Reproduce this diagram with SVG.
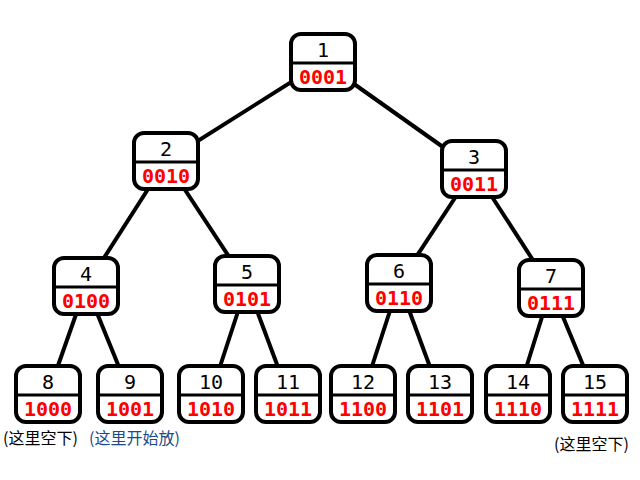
<svg xmlns="http://www.w3.org/2000/svg" width="640" height="480" viewBox="0 0 640 480">
<style>
.b{fill:#fff;stroke:#000;stroke-width:4}
.d{stroke:#000;stroke-width:3}
.n{font-family:"DejaVu Sans Mono",monospace;font-size:20px;text-anchor:middle;fill:#000}
.c{font-family:"DejaVu Sans Mono",monospace;font-size:20px;font-weight:bold;text-anchor:middle;fill:#f00}
.e{stroke:#000;stroke-width:4}
.t{font-family:"Noto Sans CJK SC",sans-serif;font-size:16px}
</style>
<defs>
<g id="box"><rect class="b" x="-32" y="0" width="64" height="56" rx="10"/><line class="d" x1="-32" y1="29" x2="32" y2="29"/></g>
</defs>
<g id="edges">
<line class="e" x1="323" y1="62" x2="166" y2="161"/>
<line class="e" x1="323" y1="62" x2="474" y2="169"/>
<line class="e" x1="166" y1="161" x2="86" y2="286"/>
<line class="e" x1="166" y1="161" x2="247" y2="284"/>
<line class="e" x1="474" y1="169" x2="399" y2="283"/>
<line class="e" x1="474" y1="169" x2="551" y2="288"/>
<line class="e" x1="86" y1="286" x2="48" y2="394"/>
<line class="e" x1="86" y1="286" x2="130" y2="394"/>
<line class="e" x1="247" y1="284" x2="211" y2="394"/>
<line class="e" x1="247" y1="284" x2="288" y2="394"/>
<line class="e" x1="399" y1="283" x2="363" y2="394"/>
<line class="e" x1="399" y1="283" x2="440" y2="394"/>
<line class="e" x1="551" y1="288" x2="518" y2="394"/>
<line class="e" x1="551" y1="288" x2="595" y2="394"/>
</g>
<g id="n1" transform="translate(323,34)"><use href="#box"/><text class="n" y="23">1</text><text class="c" y="50">0001</text></g>
<g id="n2" transform="translate(166,133)"><use href="#box"/><text class="n" y="23">2</text><text class="c" y="50">0010</text></g>
<g id="n3" transform="translate(474,141)"><use href="#box"/><text class="n" y="23">3</text><text class="c" y="50">0011</text></g>
<g id="n4" transform="translate(86,258)"><use href="#box"/><text class="n" y="23">4</text><text class="c" y="50">0100</text></g>
<g id="n5" transform="translate(247,256)"><use href="#box"/><text class="n" y="23">5</text><text class="c" y="50">0101</text></g>
<g id="n6" transform="translate(399,255)"><use href="#box"/><text class="n" y="23">6</text><text class="c" y="50">0110</text></g>
<g id="n7" transform="translate(551,260)"><use href="#box"/><text class="n" y="23">7</text><text class="c" y="50">0111</text></g>
<g id="n8" transform="translate(48,366)"><use href="#box"/><text class="n" y="23">8</text><text class="c" y="50">1000</text></g>
<g id="n9" transform="translate(130,366)"><use href="#box"/><text class="n" y="23">9</text><text class="c" y="50">1001</text></g>
<g id="n10" transform="translate(211,366)"><use href="#box"/><text class="n" y="23">10</text><text class="c" y="50">1010</text></g>
<g id="n11" transform="translate(288,366)"><use href="#box"/><text class="n" y="23">11</text><text class="c" y="50">1011</text></g>
<g id="n12" transform="translate(363,366)"><use href="#box"/><text class="n" y="23">12</text><text class="c" y="50">1100</text></g>
<g id="n13" transform="translate(440,366)"><use href="#box"/><text class="n" y="23">13</text><text class="c" y="50">1101</text></g>
<g id="n14" transform="translate(518,366)"><use href="#box"/><text class="n" y="23">14</text><text class="c" y="50">1110</text></g>
<g id="n15" transform="translate(595,366)"><use href="#box"/><text class="n" y="23">15</text><text class="c" y="50">1111</text></g>
<text class="t" x="3" y="444" fill="#000">(这里空下)</text>
<text class="t" x="89" y="444" fill="#1a4a8a">(这里开始放)</text>
<text class="t" x="554" y="450" fill="#000">(这里空下)</text>
</svg>
